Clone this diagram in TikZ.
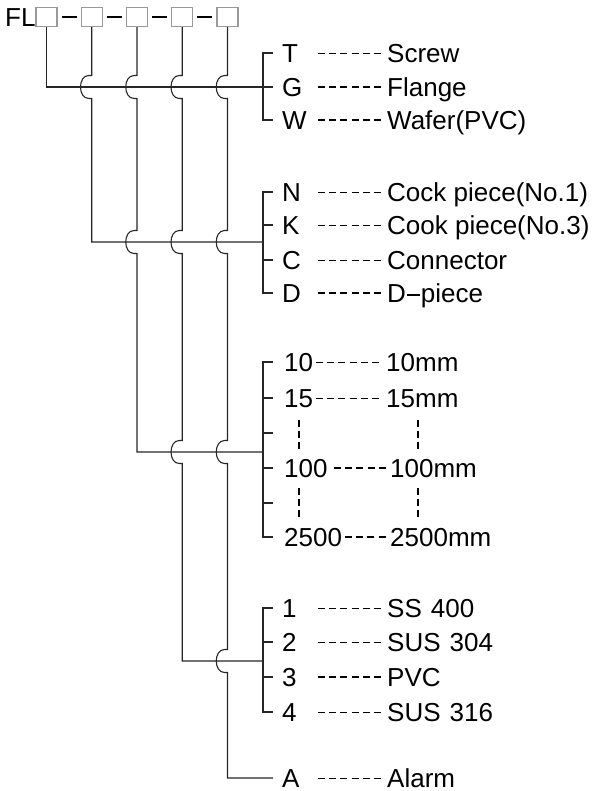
\documentclass[tikz,border=0pt]{standalone}
\usepackage{fontspec}
\setmainfont{Liberation Sans}
\begin{document}
\begin{tikzpicture}[x=1pt,y=-1pt]
\useasboundingbox (0,0) rectangle (596,791);
\tikzset{
  txt/.style={font=\fontsize{26}{30}\selectfont, inner sep=0pt, anchor=base west},
  wire/.style={line width=1.1pt, draw=black!85},
  codebox/.style={draw=black!40, line width=1.1pt, minimum width=21pt, minimum height=19pt, inner sep=0pt},
  lead/.style={line width=0.9pt, dash pattern=on 7pt off 4.2pt},
  leadb/.style={line width=1.4pt, dash pattern=on 7pt off 4.2pt},
  hop/.style args={#1/#2}{insert path={-- (#1,#2-11.5) -- (#1-3,#2-11.5) .. controls (#1-14,#2-11.5) and (#1-14,#2+11.5) .. (#1-3,#2+11.5) -- (#1,#2+11.5)}},
}
% header
\node[txt] (fl) at (5,27) {FL};
\node[codebox] (b1) at (46.5,17) {};
\node[codebox] (b2) at (91.75,17) {};
\node[codebox] (b3) at (137,17) {};
\node[codebox] (b4) at (182.25,17) {};
\node[codebox] (b5) at (227.5,17) {};
\foreach \a/\b in {b1/b2,b2/b3,b3/b4,b4/b5}
  \draw[line width=2pt, shorten <=4pt, shorten >=4pt] (\a) -- (\b);

% junction coordinates
\coordinate (g1) at (263,87);
\coordinate (g2) at (263,242);
\coordinate (g3) at (263,452);
\coordinate (g4) at (263,661);
\coordinate (aend) at (273,778);

% main wires
\draw[wire] (b1.south) |- (g1);
\draw[wire] (b2.south) [hop=91.75/87] |- (g2);
\draw[wire] (b3.south) [hop=137/87] [hop=137/242] |- (g3);
\draw[wire] (b4.south) [hop=182.25/87] [hop=182.25/242] [hop=182.25/452] |- (g4);
\draw[wire] (b5.south) [hop=227.5/87] [hop=227.5/242] [hop=227.5/452] [hop=227.5/661] |- (aend);

% brackets
\draw[wire] (273,53) -- (263,53) -- (263,120) -- (273,120);
\draw[wire] (g1) -- (273,87);
\draw[wire] (273,192) -- (263,192) -- (263,293) -- (273,293);
\foreach \y in {225,260} \draw[wire] (263,\y) -- (273,\y);
\draw[wire] (273,362) -- (263,362) -- (263,537) -- (273,537);
\foreach \y in {398,433,468,503} \draw[wire] (263,\y) -- (273,\y);
\draw[wire] (273,608) -- (263,608) -- (263,712) -- (273,712);
\foreach \y in {642,677} \draw[wire] (263,\y) -- (273,\y);

% group 1
\node[txt] (kT) at (282,62.3) {T};
\node[txt] (kG) at (282,96.3) {G};
\node[txt] (kW) at (282,129.3) {W};
\node[txt] (dT) at (387,62.3) {Screw};
\node[txt] (dG) at (387,96.3) {Flange};
\node[txt] (dW) at (387,129.3) {Wafer(PVC)};
\draw[lead]  (318,53) -- (385,53);
\draw[leadb] (318,87) -- (385,87);
\draw[leadb] (318,120) -- (385,120);

% group 2
\node[txt] (kN) at (282,201.3) {N};
\node[txt] (kK) at (282,234.3) {K};
\node[txt] (kC) at (282,269.3) {C};
\node[txt] (kD) at (282,302.3) {D};
\node[txt] (dN) at (387,201.3) {Cock piece(No.1)};
\node[txt] (dK) at (387,234.3) {Cook piece(No.3)};
\node[txt] (dC) at (387,269.3) {Connector};
\node[txt] (dD) at (387,302.3) {D\hspace{1pt}\rule[6.8pt]{13pt}{1.4pt}\hspace{1pt}piece};
\draw[lead]  (318,192) -- (385,192);
\draw[lead]  (318,225) -- (385,225);
\draw[lead]  (318,260) -- (385,260);
\draw[leadb] (318,293) -- (385,293);

% group 3
\node[txt] (k10) at (284,371.3) {10};
\node[txt] (k15) at (284,407.3) {15};
\node[txt] (k100) at (284,477.3) {100};
\node[txt] (k2500) at (284,546.3) {2500};
\node[txt] (d10) at (386,371.3) {10mm};
\node[txt] (d15) at (386,407.3) {15mm};
\node[txt] (d100) at (390,477.3) {100mm};
\node[txt] (d2500) at (390,546.3) {2500mm};
\draw[lead]  (316,362) -- (383,362);
\draw[lead]  (316,398) -- (383,398);
\draw[leadb] (334,468) -- (386,468);
\draw[leadb] (345,537) -- (386,537);
\foreach \x in {299,418} {
  \draw[line width=1.1pt, dash pattern=on 7pt off 4pt] (\x,420) -- (\x,451);
  \draw[line width=1.1pt, dash pattern=on 7pt off 4pt] (\x,488) -- (\x,518);
}

% group 4
\node[txt] (k1) at (282,617.3) {1};
\node[txt] (k2) at (282,651.3) {2};
\node[txt] (k3) at (282,686.3) {3};
\node[txt] (k4) at (282,721.3) {4};
\node[txt] (d1) at (387,617.3) {SS\hspace{9pt}400};
\node[txt] (d2) at (387,651.3) {SUS\hspace{9pt}304};
\node[txt] (d3) at (387,686.3) {PVC};
\node[txt] (d4) at (387,721.3) {SUS\hspace{9pt}316};
\draw[lead]  (318,608) -- (385,608);
\draw[lead]  (318,642) -- (385,642);
\draw[leadb] (318,677) -- (385,677);
\draw[lead]  (318,712) -- (385,712);

% alarm
\node[txt] (kA) at (282,787) {A};
\node[txt] (dA) at (387,787) {Alarm};
\draw[lead] (318,778) -- (385,778);
\end{tikzpicture}
\end{document}
